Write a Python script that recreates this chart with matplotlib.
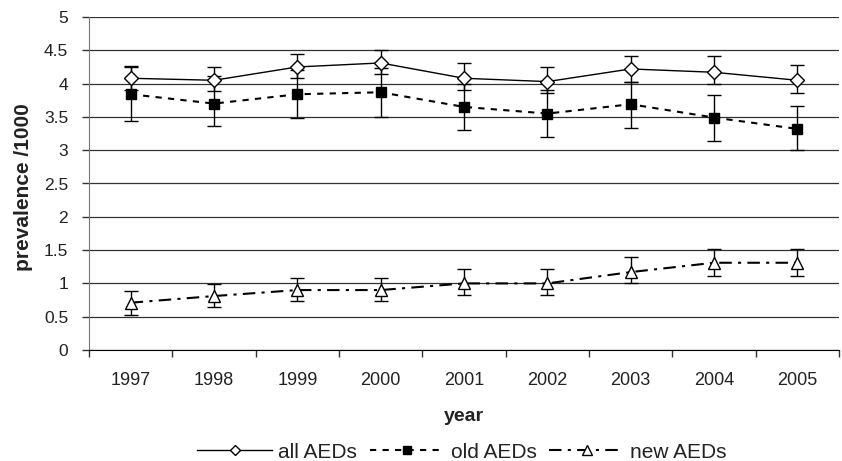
import matplotlib
matplotlib.use("Agg")
import matplotlib.pyplot as plt
import numpy as np

plt.rcParams["font.family"] = ["Liberation Sans", "DejaVu Sans"]

# Values
years = ["1997", "1998", "1999", "2000", "2001", "2002", "2003", "2004", "2005"]

all_mean = [4.08, 4.05, 4.25, 4.31, 4.08, 4.03, 4.22, 4.17, 4.05]
all_low = [3.91, 3.89, 4.08, 4.14, 3.91, 3.86, 4.03, 4.00, 3.86]
all_high = [4.27, 4.25, 4.45, 4.50, 4.31, 4.25, 4.42, 4.42, 4.28]

old_mean = [3.84, 3.70, 3.84, 3.87, 3.65, 3.55, 3.69, 3.49, 3.32]
old_low = [3.44, 3.36, 3.48, 3.50, 3.30, 3.20, 3.34, 3.14, 3.00]
old_high = [4.25, 4.11, 4.21, 4.23, 4.00, 3.90, 4.03, 3.83, 3.66]

new_mean = [0.71, 0.81, 0.90, 0.90, 1.00, 1.00, 1.17, 1.31, 1.31]
new_low = [0.53, 0.64, 0.73, 0.73, 0.83, 0.83, 1.00, 1.11, 1.11]
new_high = [0.89, 0.99, 1.08, 1.08, 1.22, 1.22, 1.39, 1.52, 1.52]

y_ticks = [0, 0.5, 1, 1.5, 2, 2.5, 3, 3.5, 4, 4.5, 5]
y_tick_labels = ["0", "0.5", "1", "1.5", "2", "2.5", "3", "3.5", "4", "4.5", "5"]

fig = plt.figure(figsize=(8.42, 4.61), dpi=100)
ax = fig.add_axes([89 / 842, 1 - 350 / 461, 750 / 842, 333 / 461])

x = np.arange(len(years))


def yerr(mean, low, high):
    m = np.array(mean)
    return [m - np.array(low), np.array(high) - m]


# horizontal gridlines
ax.set_axisbelow(True)
ax.yaxis.grid(True, color="#333333", linewidth=0.9)

err_style = dict(ecolor="black", elinewidth=1.0, capsize=5, capthick=1.0)

old = ax.errorbar(x, old_mean, yerr=yerr(old_mean, old_low, old_high),
                  color="black", linestyle=(0, (3, 3)), linewidth=1.5,
                  marker="s", markersize=6.5, markerfacecolor="black",
                  markeredgecolor="black", zorder=3, **err_style)

alls = ax.errorbar(x, all_mean, yerr=yerr(all_mean, all_low, all_high),
                   color="black", linestyle="-", linewidth=1.0,
                   marker="D", markersize=7, markerfacecolor="white",
                   markeredgecolor="black", markeredgewidth=1.0,
                   zorder=4, **err_style)

new = ax.errorbar(x, new_mean, yerr=yerr(new_mean, new_low, new_high),
                  color="black", linestyle=(0, (6, 3, 1.5, 3)), linewidth=1.5,
                  marker="^", markersize=9, markerfacecolor="white",
                  markeredgecolor="black", markeredgewidth=1.0,
                  zorder=3, **err_style)

# axes styling
ax.set_ylim(0, 5)
ax.set_xlim(-0.5, len(years) - 0.5)
ax.set_yticks(y_ticks)
ax.set_yticklabels(y_tick_labels)
ax.set_xticks(x)
ax.set_xticklabels(years)
ax.set_xticks(np.arange(len(years) + 1) - 0.5, minor=True)

ax.tick_params(axis="x", which="major", length=0, pad=16, labelsize=13, labelcolor="#222222")
ax.tick_params(axis="x", which="minor", length=5, width=1, direction="out", color="#333333")
ax.tick_params(axis="y", length=5, width=1, direction="out", pad=10,
               labelsize=12.5, labelcolor="#222222", color="#333333")

for side in ["top", "right"]:
    ax.spines[side].set_visible(False)
ax.spines["left"].set_color("#777777")
ax.spines["bottom"].set_color("black")

ax.set_ylabel("prevalence /1000", fontsize=15, fontweight="bold", color="#222222")
ax.yaxis.set_label_coords(-0.075, 0.49)
ax.set_xlabel("year", fontsize=14, fontweight="bold", color="#222222")
ax.xaxis.set_label_coords(0.5, -0.175)

# legend uses only the data lines, not the error bars
fig.legend([alls[0], old[0], new[0]], ["all AEDs", "old AEDs", "new AEDs"],
           loc="center", bbox_to_anchor=(462 / 842, 1 - 452 / 461), ncol=3,
           frameon=False, fontsize=15, handlelength=3.6, handletextpad=0.3,
           columnspacing=0.6, borderpad=0, markerscale=0.8, labelcolor="#222222")

fig.savefig("out.png", dpi=100)
